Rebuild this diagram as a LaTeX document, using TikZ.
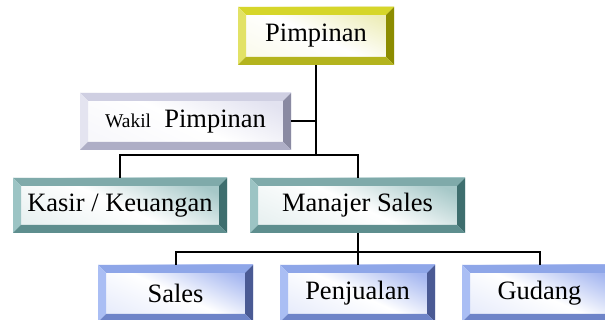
\documentclass[tikz,border=0pt]{standalone}
\usepackage{fontspec}
\setmainfont{Liberation Serif}
\definecolor{yT}{HTML}{D6D62A}\definecolor{yL}{HTML}{E2E266}\definecolor{yR}{HTML}{8C8C00}\definecolor{yB}{HTML}{B4B41E}\definecolor{yF}{HTML}{EDEDB8}
\definecolor{gT}{HTML}{CFCFE2}\definecolor{gL}{HTML}{E4E4F0}\definecolor{gR}{HTML}{8A8AA2}\definecolor{gB}{HTML}{AEAEC6}\definecolor{gF}{HTML}{E2E2F0}
\definecolor{tT}{HTML}{7FAAAA}\definecolor{tL}{HTML}{9CC4C4}\definecolor{tR}{HTML}{3E6E6E}\definecolor{tB}{HTML}{5E8E8E}\definecolor{tF}{HTML}{A6C8C8}
\definecolor{bT}{HTML}{8EA6E8}\definecolor{bL}{HTML}{AABEF4}\definecolor{bR}{HTML}{4A5A94}\definecolor{bB}{HTML}{6E84C8}\definecolor{bF}{HTML}{A4B6F0}
\tikzset{
  bevbox/.style n args={5}{rectangle, inner sep=0pt,
    font=\fontsize{26.5}{30}\selectfont,
    top color=#5, bottom color=#5!25, middle color=white, shading angle=-25,
    path picture={
      \fill[#1] (path picture bounding box.north west) -- (path picture bounding box.north east)
        -- ([shift={(-8pt,-8pt)}]path picture bounding box.north east)
        -- ([shift={(8pt,-8pt)}]path picture bounding box.north west) -- cycle;
      \fill[#2] (path picture bounding box.north west) -- ([shift={(8pt,-8pt)}]path picture bounding box.north west)
        -- ([shift={(8pt,8pt)}]path picture bounding box.south west)
        -- (path picture bounding box.south west) -- cycle;
      \fill[#3] (path picture bounding box.north east) -- (path picture bounding box.south east)
        -- ([shift={(-8pt,8pt)}]path picture bounding box.south east)
        -- ([shift={(-8pt,-8pt)}]path picture bounding box.north east) -- cycle;
      \fill[#4] (path picture bounding box.south west) -- (path picture bounding box.south east)
        -- ([shift={(-8pt,8pt)}]path picture bounding box.south east)
        -- ([shift={(8pt,8pt)}]path picture bounding box.south west) -- cycle;
    }},
  yellowbox/.style={bevbox={yT}{yL}{yR}{yB}{yF}},
  greybox/.style={bevbox={gT}{gL}{gR}{gB}{gF}},
  tealbox/.style={bevbox={tT}{tL}{tR}{tB}{tF}},
  bluebox/.style={bevbox={bT}{bL}{bR}{bB}{bF}},
  conn/.style={draw=black, line width=2pt},
}
\begin{document}
\begin{tikzpicture}[x=1pt,y=-1pt]
\useasboundingbox (0,0) rectangle (605,320);
\clip (0,0) rectangle (605,320);
\node[yellowbox, minimum width=156pt, minimum height=58pt] (pim) at (316,36) {Pimpinan};
\node[greybox, minimum width=211pt, minimum height=57pt] (wak) at (185.5,121.5) {{\fontsize{19.5}{22}\selectfont Wakil}\ \ Pimpinan};
\node[tealbox, minimum width=214pt, minimum height=55pt] (kas) at (120,205.5) {Kasir / Keuangan};
\node[tealbox, minimum width=215pt, minimum height=55pt] (man) at (357.5,205.5) {Manajer Sales};
\node[bluebox, minimum width=155pt, minimum height=57pt] (sal) at (175.5,293.5) {Sales};
\node[bluebox, minimum width=155pt, minimum height=57pt] (pen) at (357.5,293.5) {Penjualan};
\node[bluebox, minimum width=155pt, minimum height=57pt] (gud) at (539.5,293.5) {Gudang};
\coordinate (j1) at (316,155);
\coordinate (j2) at (357.5,252);
\draw[conn] (pim.south) -- (j1);
\draw[conn] (wak.east) -- (wak.east -| j1);
\draw[conn] (kas.north) |- (j1) -| (man.north);
\draw[conn] (man.south) -- (pen.north);
\draw[conn] (sal.north) |- (j2) -| (gud.north);
\end{tikzpicture}
\end{document}
